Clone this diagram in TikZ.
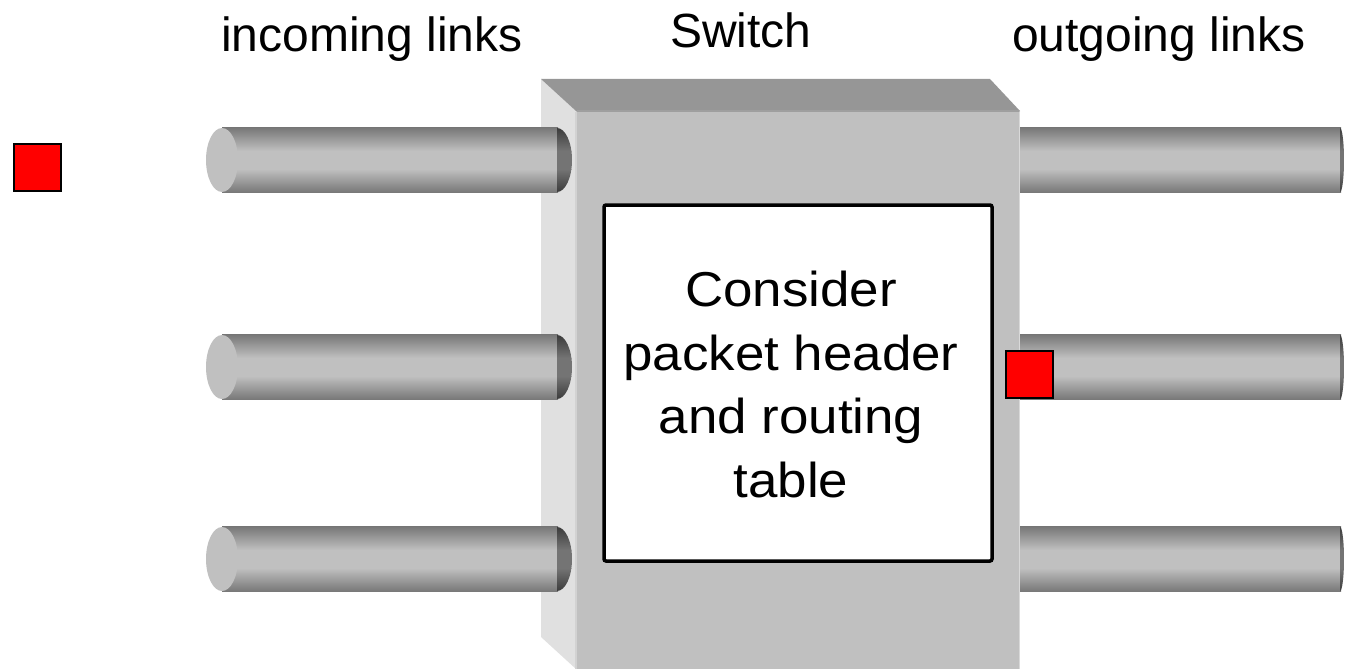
\documentclass[tikz,border=0pt]{standalone}
\usepackage{fontspec}
\setmainfont{Liberation Sans}
\newfontfamily\widefont[FakeStretch=1.08]{Liberation Sans}
\definecolor{topface}{HTML}{969696}
\definecolor{leftface}{HTML}{E0E0E0}
\definecolor{frontface}{HTML}{C0C0C0}
\definecolor{cyld}{HTML}{777777}
\definecolor{cyll}{HTML}{C0C0C0}
\definecolor{capd}{HTML}{3A3A3A}
\definecolor{capl}{HTML}{747474}
\definecolor{pktred}{HTML}{FF0000}
\tikzset{
  lbl/.style={inner sep=0pt, font=\fontsize{48}{58}\selectfont},
  tablebox/.style={draw=black, fill=white, line width=3.5pt, rounded corners=2pt,
    minimum width=388pt, minimum height=356pt, inner sep=0pt},
  tabletext/.style={inner sep=0pt, align=center, font=\widefont\fontsize{49}{63.5}\selectfont},
  pkt/.style={draw=black, fill=pktred, line width=2pt, minimum size=47pt, inner sep=0pt},
}
% bands: #1 dark colour, #2 light colour, #3 left x, #4 right x, #5 centre y
\newcommand{\cylbands}[5]{%
  \shade[top color=#1, bottom color=#2, shading angle=0] (#3,#5-32.5) rectangle (#4,#5-9);
  \fill[#2] (#3,#5-9.5) rectangle (#4,#5+9.5);
  \shade[top color=#2, bottom color=#1, shading angle=0] (#3,#5+9) rectangle (#4,#5+32.5);
}
\begin{document}
\begin{tikzpicture}[x=1pt,y=-1pt]
\useasboundingbox (0,0) rectangle (1345,669);
% switch body
\fill[leftface] (541,79) -- (576,111) -- (576,669) -- (541,637) -- cycle;
\fill[topface] (541,79) -- (990,79) -- (1020,111) -- (576,111) -- cycle;
\fill[frontface] (576,111) rectangle (1020,669);
\draw[color=gray!75, line width=1.5pt] (577,111) -- (1019,111);
\draw[color=gray!35, line width=1.5pt] (576,112) -- (576,669);
\draw[color=gray!30, line width=1.5pt] (1019.5,112) -- (1019.5,669);
% table
\node[tablebox] (table) at (798,383) {};
\node[tabletext, anchor=north] (txt) at (791,271) {Consider\\packet header\\and routing\\table};
% incoming links
\foreach \y in {160,367,559} {
  \cylbands{cyld}{cyll}{222}{558}{\y}
  \begin{scope}
    \clip (557,\y-32) arc[start angle=-90,end angle=90,x radius=15,y radius=32] -- cycle;
    \cylbands{capd}{capl}{556}{575}{\y}
  \end{scope}
  \fill[cyll] (222,\y) ellipse[x radius=16,y radius=32];
}
% outgoing links
\foreach \y in {160,367,559} {
  \cylbands{cyld}{cyll}{1020}{1341}{\y}
  \begin{scope}
    \clip (1340,\y-32) arc[start angle=-90,end angle=90,x radius=4,y radius=32] -- cycle;
    \cylbands{capd}{capl}{1339}{1345}{\y}
  \end{scope}
}
% labels
\node[lbl, anchor=base] (inc) at (372,52) {incoming links};
\node[lbl, anchor=base] (sw) at (741,48) {Switch};
\node[lbl, anchor=base] (outl) at (1159,52) {outgoing links};
% packets
\node[pkt] (p1) at (37.5,167) {};
\node[pkt] (p2) at (1029.5,374.5) {};
\end{tikzpicture}
\end{document}
